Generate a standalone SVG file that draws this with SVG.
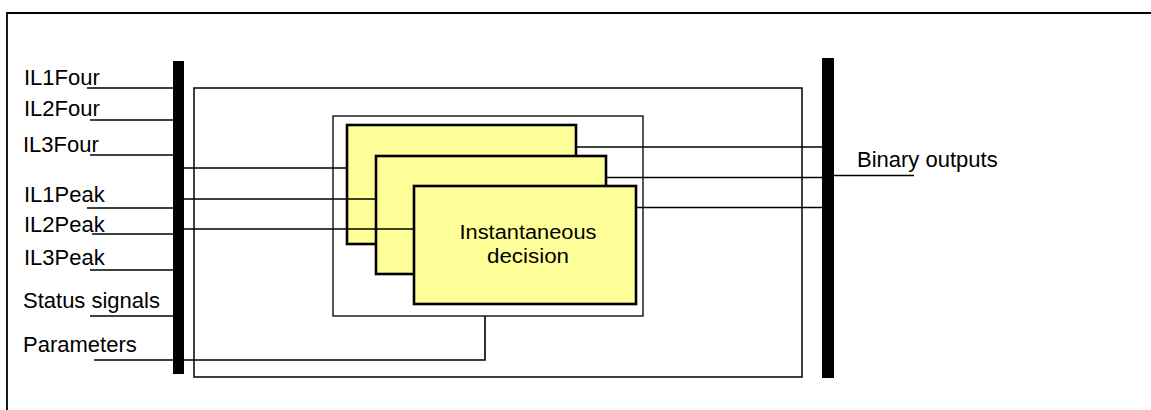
<svg xmlns="http://www.w3.org/2000/svg" width="1151" height="410" viewBox="0 0 1151 410">
<style>
.lbl{font-family:"Liberation Sans",Arial,sans-serif;font-size:22px;fill:#000}
.box{font-family:"Liberation Sans",Arial,sans-serif;font-size:20px;fill:#000;text-anchor:middle}
.frame{fill:none;stroke:#000;stroke-width:1.5}
.thin{fill:none;stroke:#111;stroke-width:1.4}
.card{fill:#FFFF99;stroke:#000;stroke-width:2.6}
.bar{fill:#000}
.wire{fill:none;stroke:#000;stroke-width:1.6}
</style>
<rect width="1151" height="410" fill="#fff"/>
<g id="border">
<path d="M7 410 V13 H1151" fill="none" stroke="#000" stroke-width="1.8"/>
</g>
<g id="function-block">
<rect class="frame" x="194" y="88" width="608" height="289"/>
</g>
<g id="decision-group">
<rect class="thin" x="333" y="116" width="310" height="200"/>
</g>
<g id="decision-1"><rect class="card" x="347" y="125" width="229" height="119"/></g>
<g id="decision-2"><rect class="card" x="376" y="156" width="230" height="118"/></g>
<g id="decision-3">
<rect class="card" x="414" y="186" width="222" height="118"/>
<text class="box" x="528" y="239" textLength="137" lengthAdjust="spacingAndGlyphs">Instantaneous</text>
<text class="box" x="528" y="263" textLength="82" lengthAdjust="spacingAndGlyphs">decision</text>
</g>
<g id="connectors">
<line class="wire" x1="87" y1="88" x2="174" y2="88"/>
<line class="wire" x1="90" y1="120" x2="174" y2="120"/>
<line class="wire" x1="90" y1="155" x2="174" y2="155"/>
<line class="wire" x1="87" y1="208" x2="174" y2="208"/>
<line class="wire" x1="92" y1="234" x2="174" y2="234"/>
<line class="wire" x1="90" y1="270" x2="174" y2="270"/>
<line class="wire" x1="90" y1="316" x2="174" y2="316"/>
<path class="wire" d="M94 360 H485 V316"/>
<line class="wire" x1="184" y1="168" x2="347" y2="168"/>
<line class="wire" x1="184" y1="199" x2="376" y2="199"/>
<line class="wire" x1="184" y1="229" x2="414" y2="229"/>
<line class="wire" x1="576" y1="147" x2="822" y2="147"/>
<line class="wire" x1="606" y1="177.5" x2="822" y2="177.5"/>
<line class="wire" x1="636" y1="207.5" x2="822" y2="207.5"/>
<line class="wire" x1="834" y1="175.5" x2="914" y2="175.5"/>
</g>
<g id="input-bus"><rect class="bar" x="173" y="61" width="11" height="313"/></g>
<g id="output-bus"><rect class="bar" x="822" y="58" width="12" height="320"/></g>
<g id="inputs">
<text class="lbl" x="24" y="85">IL1Four</text>
<text class="lbl" x="24" y="116">IL2Four</text>
<text class="lbl" x="23" y="152">IL3Four</text>
<text class="lbl" x="24" y="202">IL1Peak</text>
<text class="lbl" x="24" y="232">IL2Peak</text>
<text class="lbl" x="24" y="265">IL3Peak</text>
<text class="lbl" x="23" y="308">Status signals</text>
<text class="lbl" x="23" y="352">Parameters</text>
</g>
<g id="outputs">
<text class="lbl" x="857" y="167">Binary outputs</text>
</g>
<rect x="319.5" y="335.5" width="1" height="1" fill="#888"/>
</svg>
